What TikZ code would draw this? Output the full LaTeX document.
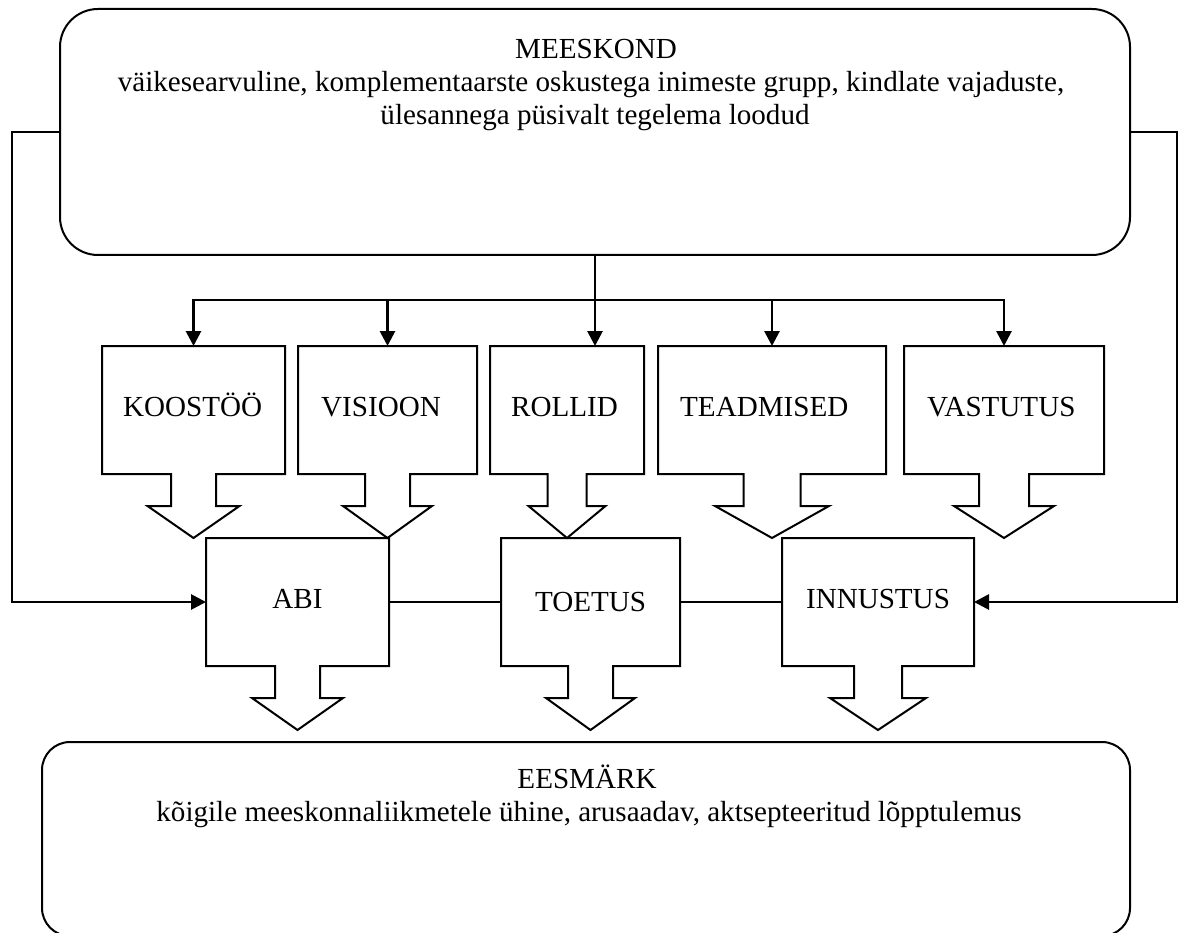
\documentclass[tikz,border=0pt]{standalone}
\usepackage{fontspec}
\setmainfont{Liberation Serif}
\usetikzlibrary{arrows.meta}

% box with a downward arrow tail: name, left, top, right, stem half width, head half width
\newcommand\downcallout[6]{%
  \node[area,minimum width={(#4)-(#2)},minimum height=128pt,anchor=north west] (#1) at (#2,#3) {};
  \draw[outline] (#2,#3) -- (#4,#3) -- (#4,{#3+128})
    -- ({(#2+#4)/2+#5},{#3+128}) -- ({(#2+#4)/2+#5},{#3+160})
    -- ({(#2+#4)/2+#6},{#3+160}) -- ({(#2+#4)/2},{#3+192})
    -- ({(#2+#4)/2-#6},{#3+160}) -- ({(#2+#4)/2-#5},{#3+160})
    -- ({(#2+#4)/2-#5},{#3+128}) -- (#2,{#3+128}) -- cycle;
}

\begin{document}
\begin{tikzpicture}[x=1pt,y=-1pt,
  outline/.style={draw=black,line width=2pt,line join=miter},
  area/.style={rectangle,inner sep=0pt,outer sep=0pt},
  conn/.style={draw=black,line width=2.8pt},
  tip/.style={-{Triangle[length=15pt,width=15pt]}},
  link/.style={draw=black,line width=2pt},
  lbl/.style={font=\fontsize{29.1}{33}\selectfont,inner sep=0pt},
]
\useasboundingbox (0,0) rectangle (1180,933);

% team and goal containers
\node[area,outline,rounded corners=38pt,minimum width=1070pt,minimum height=246pt,anchor=north west] (team) at (60,9) {};
\node[area,outline,rounded corners=28pt,minimum width=1088pt,minimum height=194pt,anchor=north west] (goal) at (42,742) {};

\node[lbl,anchor=base] (teamname) at (596,59) {MEESKOND};
\node[lbl,anchor=base] (teamdef1) at (591,92) {väikesearvuline, komplementaarste oskustega inimeste grupp, kindlate vajaduste,};
\node[lbl,anchor=base] (teamdef2) at (595,125) {ülesannega püsivalt tegelema loodud};

\node[lbl,anchor=base] (goalname) at (587,788) {EESMÄRK};
\node[lbl,anchor=base] (goaldef) at (589,821) {kõigile meeskonnaliikmetele ühine, arusaadav, aktsepteeritud lõpptulemus};

% qualities of the team
\downcallout{koos}{102}{346}{285}{22.5}{46}
\downcallout{vis}{298}{346}{477}{22.5}{44.5}
\downcallout{roll}{490}{346}{644}{19.5}{38.5}
\downcallout{tead}{658}{346}{886}{28.5}{57}
\downcallout{vast}{904}{346}{1104}{25}{50}

\node[lbl,anchor=base west] (kooslbl) at (123,416) {KOOSTÖÖ};
\node[lbl,anchor=base west] (vislbl) at (321,416) {VISIOON};
\node[lbl,anchor=base west] (rolllbl) at (511,416) {ROLLID};
\node[lbl,anchor=base west] (teadlbl) at (680,416) {TEADMISED};
\node[lbl,anchor=base west] (vastlbl) at (927,416) {VASTUTUS};

% help, support, inspiration
\downcallout{abi}{206}{538}{389}{22.5}{45.5}
\downcallout{toe}{501}{538}{680}{22.5}{44.5}
\downcallout{inn}{782}{538}{974}{24}{48}

\node[lbl,anchor=base] (abilbl) at (297.5,608) {ABI};
\node[lbl,anchor=base] (toelbl) at (590.5,611) {TOETUS};
\node[lbl,anchor=base] (innlbl) at (878,608) {INNUSTUS};

% connectors
\coordinate (bus) at (0,300);
\coordinate (lrail) at (12,0);
\coordinate (rrail) at (1177,0);

\draw[conn,tip] (team.south) -- (team.south |- roll.north);
\draw[conn,tip] (bus -| team.south) -| (koos.north);
\draw[conn,tip] (bus -| team.south) -| (vast.north);
\draw[conn,tip] (bus -| vis.north) -- (vis.north);
\draw[conn,tip] (bus -| tead.north) -- (tead.north);
\draw[conn,tip] (team.west) -| (lrail |- abi.west) -- (abi.west);
\draw[conn,tip] (team.east) -| (rrail |- inn.east) -- (inn.east);
\draw[link] (abi.east) -- (toe.west);
\draw[link] (toe.east) -- (inn.west);
\end{tikzpicture}
\end{document}
